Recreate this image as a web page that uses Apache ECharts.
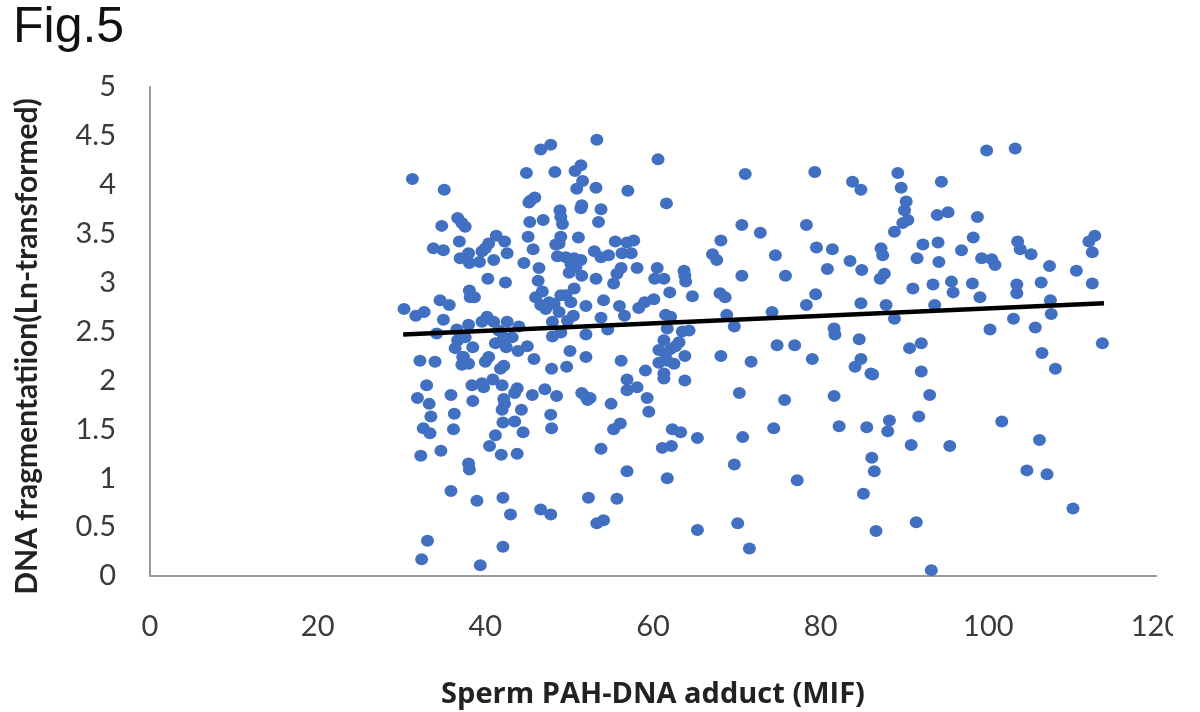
<!DOCTYPE html>
<html><head><meta charset="utf-8">
<style>html,body{margin:0;padding:0;background:#fff}#c{width:1200px;height:712px}</style>
<script src="https://cdn.jsdelivr.net/npm/echarts@6/dist/echarts.min.js"></script>
</head><body><div id="c"></div>
<script>
const figureTitle = 'Fig.5';
const xAxisName = 'Sperm PAH-DNA adduct (MIF)';
const yAxisName = 'DNA fragmentatiion(Ln-transformed)';
const xTicks = [0,20,40,60,80,100,120];
const yTicks = [0,0.5,1,1.5,2,2.5,3,3.5,4,4.5,5];
const trendX = [30.2,113.8];
const trendY = [2.47,2.79];
const upperLeftX = [31.3,35.1,46.6,47.8,53.3,60.6,44.9,48.3,50.7,51.4,51.6,50.9,53.2,57.0,61.6,45.4,45.9,45.2,51.4,51.5,53.8,53.5,
 36.7,37.2,37.6,34.8,45.3,46.9,48.9,49.0,49.2,45.1,41.3,42.3,36.9,51.1,49.0,48.8,48.4,40.4,40.0,39.6,33.8,35.0,45.7,
 55.5,56.9,57.7,42.6,53.0,53.8,54.7,56.3,57.4,38.0,37.0,38.1,39.3,41.0,44.6,48.6,49.6,50.6,51.4,50.2,50.8,50.0,51.5,
 46.4,46.3,53.2,56.2,55.7,55.3,58.1,60.5,60.2,61.3,63.7,63.8,63.9,40.3,42.4,62.0,64.7,38.1,38.2,38.7,34.6,35.7,30.3,31.7,32.7,35.0,
 46.8,46.0,46.6,47.2,48.2,49.0,49.6,50.2,50.6,48.8,47.6,52.0,54.1,56.0,56.6,58.3,59.0,60.1,53.8,50.5,49.8,61.5,62.1,
 40.2,39.6,41.0,42.6,44.0,38.0,36.6,34.2,41.6,48.0,48.0,49.0,52.0,54.6,61.7,64.3,63.5,61.3,60.7,62.1,63.1,61.5,
 37.6,36.7,36.4,38.5,37.4,41.2,42.2,42.5,43.2,43.9,45.0,50.1];
const upperLeftY = [4.06,3.95,4.36,4.41,4.46,4.26,4.12,4.13,4.14,4.20,4.04,3.96,3.97,3.94,3.81,3.84,3.87,3.82,3.76,3.79,3.75,3.62,
 3.66,3.61,3.57,3.58,3.62,3.64,3.74,3.67,3.60,3.47,3.48,3.42,3.42,3.46,3.47,3.40,3.39,3.40,3.35,3.32,3.35,3.33,3.34,
 3.42,3.41,3.43,3.30,3.32,3.26,3.28,3.30,3.30,3.30,3.25,3.20,3.21,3.23,3.20,3.27,3.26,3.25,3.23,3.19,3.16,3.10,3.07,
 3.15,3.02,3.04,3.15,3.09,2.99,3.15,3.15,3.04,3.04,3.12,3.07,3.01,3.04,3.00,2.90,2.86,2.92,2.85,2.85,2.82,2.77,2.73,2.66,2.70,2.62,
 2.91,2.85,2.77,2.73,2.78,2.87,2.87,2.80,2.94,2.70,2.80,2.76,2.82,2.76,2.66,2.74,2.80,2.83,2.64,2.66,2.61,2.67,2.65,
 2.65,2.60,2.60,2.60,2.55,2.57,2.52,2.48,2.51,2.60,2.45,2.49,2.47,2.52,2.53,2.51,2.50,2.41,2.31,2.32,2.39,2.27,
 2.44,2.41,2.33,2.34,2.24,2.38,2.44,2.34,2.44,2.30,2.35,2.30];
const lowerLeftX = [32.2,34.0,37.3,37.2,38.0,40.0,40.4,42.2,41.8,45.8,47.9,49.7,59.1,56.9,58.1,56.9,59.3,59.5,52.0,56.2,
 63.8,62.5,60.7,61.7,61.3,61.3,63.8,62.7,
 33.0,31.9,33.3,35.9,38.5,33.5,36.3,38.4,39.6,39.8,40.9,42.0,42.2,42.3,42.0,43.8,43.5,45.6,47.1,48.5,51.5,52.0,52.5,52.2,55.0,
 44.3,42.1,43.5,47.8,47.9,32.6,33.4,36.2,44.5,41.2,56.1,55.3,62.3,63.3,65.3,
 40.5,41.9,43.8,32.3,34.7,53.8,61.1,62.2,38.0,38.1,56.9,61.7,
 35.9,39.0,42.1,43.0,46.6,47.8,52.3,55.7,53.3,54.1,65.3,33.1,32.4,42.1,39.4];
const lowerLeftY = [2.20,2.19,2.24,2.16,2.17,2.19,2.24,2.15,2.12,2.22,2.12,2.14,2.10,2.01,1.93,1.90,1.82,1.68,2.24,2.20,
 2.25,2.17,2.18,2.20,2.07,2.02,2.00,2.35,
 1.95,1.82,1.76,1.85,1.79,1.63,1.66,1.95,1.97,1.93,2.01,1.95,1.81,1.76,1.70,1.92,1.87,1.85,1.91,1.84,1.87,1.83,1.82,1.80,1.76,
 1.70,1.57,1.58,1.65,1.51,1.51,1.46,1.50,1.47,1.44,1.56,1.50,1.50,1.47,1.41,
 1.33,1.24,1.25,1.23,1.28,1.30,1.31,1.33,1.15,1.09,1.07,1.00,
 0.87,0.77,0.80,0.63,0.68,0.63,0.80,0.79,0.54,0.57,0.47,0.36,0.17,0.30,0.11];
const upperRightX = [71.0,79.3,83.8,84.8,89.2,89.6,94.4,99.8,103.2,90.2,90.0,90.4,89.8,88.8,70.6,72.8,78.3,93.9,95.2,98.7,
 68.1,98.2,94.0,92.2,112.7,112.0,112.4,67.1,67.6,74.6,79.5,81.4,87.2,87.4,103.5,103.8,105.1,96.8,91.5,94.1,99.2,100.4,100.8,
 83.5,84.9,80.8,70.6,75.8,87.6,87.1,107.3,110.5,106.3,112.4,95.6,95.8,93.4,91.0,98.1,99.0,103.4,103.4,
 68.0,68.6,79.4,78.3,84.8,87.8,93.6,107.4,107.5,103.0,105.6,100.2,68.8,69.7,74.2,88.8,81.6,81.7,84.6,74.8,76.9,90.6,92.0,106.4,113.6];
const upperRightY = [4.11,4.13,4.03,3.95,4.12,3.97,4.03,4.35,4.37,3.83,3.74,3.64,3.61,3.52,3.59,3.51,3.59,3.69,3.72,3.67,
 3.43,3.46,3.41,3.39,3.48,3.42,3.31,3.29,3.23,3.28,3.36,3.34,3.35,3.28,3.42,3.34,3.29,3.33,3.25,3.21,3.25,3.24,3.18,
 3.22,3.13,3.14,3.07,3.07,3.09,3.04,3.17,3.12,3.00,2.99,3.01,2.90,2.98,2.94,2.99,2.85,2.98,2.89,
 2.89,2.85,2.88,2.77,2.79,2.77,2.77,2.82,2.68,2.63,2.54,2.52,2.67,2.55,2.70,2.63,2.53,2.47,2.42,2.36,2.36,2.33,2.38,2.28,2.38];
const lowerRightX = [68.1,71.7,79.0,84.8,84.1,86.0,86.2,92.0,108.0,70.3,75.7,81.6,93.0,88.2,91.7,74.4,82.2,85.5,88.0,70.7,
 90.8,95.4,101.6,106.1,104.6,107.0,110.1,86.1,86.4,69.7,77.2,85.1,70.1,86.6,91.4,71.5,93.2];
const lowerRightY = [2.25,2.19,2.22,2.22,2.14,2.07,2.06,2.09,2.12,1.87,1.80,1.84,1.85,1.59,1.63,1.51,1.53,1.52,1.48,1.42,
 1.34,1.33,1.58,1.39,1.08,1.04,0.69,1.21,1.07,1.14,0.98,0.84,0.54,0.46,0.55,0.28,0.06];

const zip = (a, b) => a.map((v, i) => [v, b[i]]);
const dots = [].concat(zip(upperLeftX, upperLeftY), zip(lowerLeftX, lowerLeftY),
                       zip(upperRightX, upperRightY), zip(lowerRightX, lowerRightY));
const uiFont = 'Lato';
const chart = echarts.init(document.getElementById('c'), null, {renderer:'canvas'});
chart.setOption({
  animation:false,
  backgroundColor:'#ffffff',
  title:{text:figureTitle,left:8,top:-2,textStyle:{fontFamily:'Liberation Sans',fontSize:50,fontWeight:'normal',color:'#111'}},
  grid:{left:150,right:44,top:87,bottom:136,outerBoundsMode:'none',containLabel:false},
  xAxis:{type:'value',min:xTicks[0],max:xTicks[xTicks.length-1],interval:20,splitLine:{show:false},
    axisLine:{show:true,onZero:false,lineStyle:{color:'#9a9a9a',width:2}},axisTick:{show:false},
    axisLabel:{margin:36,fontFamily:uiFont,fontSize:29,color:'#3a3a3a',showMaxLabel:true,hideOverlap:false},
    name:xAxisName,nameLocation:'middle',nameGap:104,
    nameTextStyle:{fontFamily:'Open Sans',fontSize:29,fontWeight:'bold',color:'#222'}},
  yAxis:{type:'value',min:yTicks[0],max:yTicks[yTicks.length-1],interval:0.5,splitLine:{show:false},
    axisLine:{show:true,onZero:false,lineStyle:{color:'#9a9a9a',width:2}},axisTick:{show:false},
    axisLabel:{margin:34,fontFamily:uiFont,fontSize:29,color:'#3a3a3a',align:'right'},
    name:yAxisName,nameLocation:'middle',nameGap:108,nameRotate:90,
    nameTextStyle:{fontFamily:uiFont,fontSize:30,fontWeight:'bold',color:'#222',padding:[0,30,0,0]}},
  series:[
    {type:'scatter',data:dots,symbol:'circle',symbolSize:[13,12],itemStyle:{color:'#4170C2',opacity:1},z:2},
    {type:'line',data:zip(trendX,trendY),showSymbol:false,symbol:'none',lineStyle:{color:'#000',width:4.5},z:3}
  ],
  graphic:[{type:'rect',right:0,top:600,shape:{width:27,height:50},style:{fill:'#fff'},z:100}]
});
</script></body></html>
